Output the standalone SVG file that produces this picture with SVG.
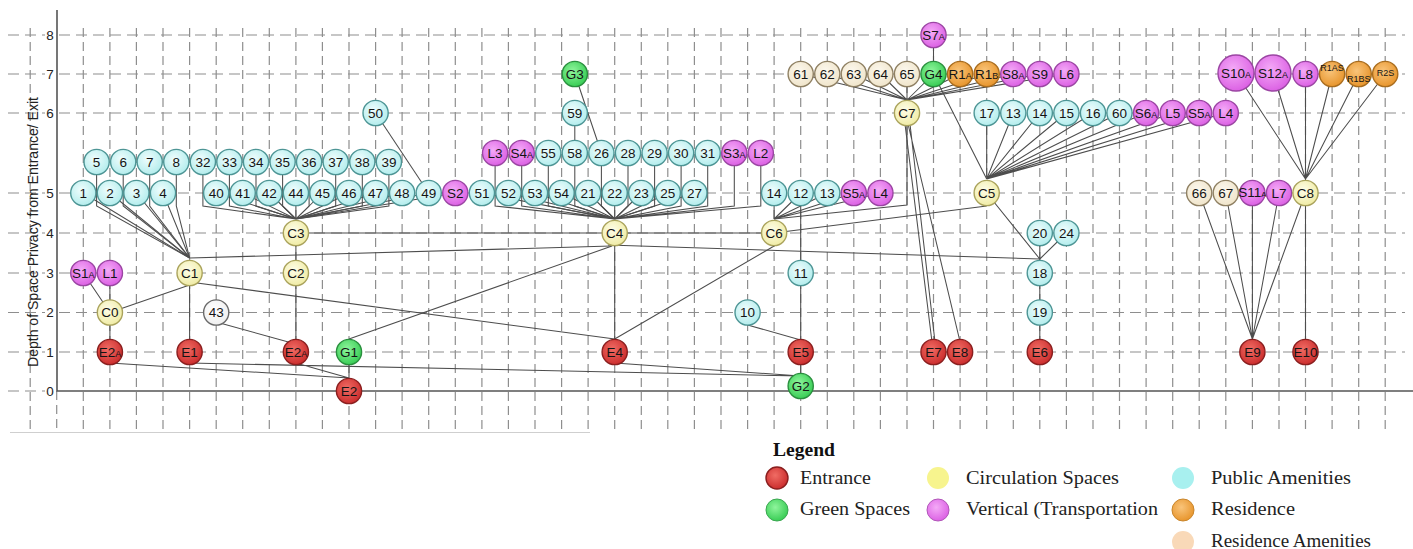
<svg xmlns="http://www.w3.org/2000/svg" width="1413" height="549" viewBox="0 0 1413 549">
<defs>
<radialGradient id="gPub" cx="0.42" cy="0.38" r="0.62"><stop offset="0" stop-color="#effdfd"/><stop offset="1" stop-color="#b4eded"/></radialGradient>
<radialGradient id="gCirc" cx="0.42" cy="0.38" r="0.62"><stop offset="0" stop-color="#fefde8"/><stop offset="1" stop-color="#f0eca6"/></radialGradient>
<radialGradient id="gEnt" cx="0.42" cy="0.38" r="0.62"><stop offset="0" stop-color="#f06c64"/><stop offset="1" stop-color="#cc2e2e"/></radialGradient>
<radialGradient id="gGrn" cx="0.42" cy="0.38" r="0.62"><stop offset="0" stop-color="#8ff59c"/><stop offset="1" stop-color="#3acd56"/></radialGradient>
<radialGradient id="gVt" cx="0.42" cy="0.38" r="0.62"><stop offset="0" stop-color="#f4aaf7"/><stop offset="1" stop-color="#dc62e4"/></radialGradient>
<radialGradient id="gRes" cx="0.42" cy="0.38" r="0.62"><stop offset="0" stop-color="#f9c47a"/><stop offset="1" stop-color="#e8962e"/></radialGradient>
<radialGradient id="gRam" cx="0.42" cy="0.38" r="0.62"><stop offset="0" stop-color="#fcf8ee"/><stop offset="1" stop-color="#f0e5cb"/></radialGradient>
<radialGradient id="gPln" cx="0.42" cy="0.38" r="0.62"><stop offset="0" stop-color="#ffffff"/><stop offset="1" stop-color="#efefef"/></radialGradient>
<style>
.gh{fill:none;stroke:#8e8e8e;stroke-width:1.2;stroke-dasharray:11 6}
.gv{fill:none;stroke:#8e8e8e;stroke-width:1.2;stroke-dasharray:9 5}
.axis{fill:none;stroke:#555;stroke-width:1.6}
.tick{font-family:"Liberation Sans",Arial,sans-serif;font-size:13.5px;fill:#222;text-anchor:middle}
.ytitle{font-family:"Liberation Sans",Arial,sans-serif;font-size:14px;fill:#222;text-anchor:middle}
#connectors path{fill:none;stroke:#4d4d4d;stroke-width:1.05}
.node circle{stroke-width:1.4}
.node text{font-family:"Liberation Sans",Arial,sans-serif;font-size:13.5px;fill:#141414;text-anchor:middle}
.node .s{font-size:9px}
.node .tiny{font-size:9px}
.pub circle{fill:url(#gPub);stroke:#4d9595}
.circ circle{fill:url(#gCirc);stroke:#aaa35c}
.ent circle{fill:url(#gEnt);stroke:#8a1f1f}
.grn circle{fill:url(#gGrn);stroke:#2a8f3e}
.vt circle{fill:url(#gVt);stroke:#9b46a3}
.res circle{fill:url(#gRes);stroke:#a96d1f}
.ram circle{fill:url(#gRam);stroke:#8f8063}
.pln circle{fill:url(#gPln);stroke:#6a6a6a}
.lg{font-family:"Liberation Serif","Times New Roman",serif;font-size:18px;fill:#222}
.lgh{font-family:"Liberation Serif","Times New Roman",serif;font-size:18px;font-weight:bold;fill:#111}
</style>
</defs>
<rect width="1413" height="549" fill="#fff"/>

<!-- grid -->
<g id="grid">
<path class="gh" d="M8 35H1405M8 74H1405M8 113H1405M8 193H1405M8 233H1405M8 273H1405M8 312.5H1405M8 352H1405M8 391H57"/>
<path class="gv" d="M30.2 28V432M56.7 391V432M83.3 28V432M109.9 28V432M136.4 28V432M163 28V432M189.6 28V432M216.2 28V432M242.7 28V432M269.3 28V432M295.9 28V432M322.4 28V432M349 28V432M375.6 28V432M402.1 28V432M428.7 28V432M455.3 28V432M481.9 28V432M508.4 28V432M535 28V432M561.6 28V432M588.1 28V432M614.7 28V432M641.3 28V432M667.8 28V432M694.4 28V432M721 28V432M747.6 28V432M774.1 28V432M800.7 28V432M827.3 28V432M853.8 28V432M880.4 28V432M907 28V432M933.5 28V432M960.1 28V432M986.7 28V432M1013.3 28V432M1039.8 28V432M1066.4 28V432M1093 28V432M1119.5 28V432M1146.1 28V432M1172.7 28V432M1199.2 28V432M1225.8 28V432M1252.4 28V432M1279 28V432M1305.5 28V432M1332.1 28V432M1358.7 28V432M1385.2 28V432"/>
<path d="M10 432.5H590" stroke="#cfcfcf" stroke-width="1.2" fill="none"/>
</g>

<!-- axes -->
<g id="axes">
<path class="axis" d="M57 10V391H1413"/>
<g fill="#fff"><rect x="45" y="28" width="10" height="14"/><rect x="45" y="67" width="10" height="14"/><rect x="45" y="106" width="10" height="14"/><rect x="45" y="186" width="10" height="14"/><rect x="45" y="226" width="10" height="14"/><rect x="45" y="266" width="10" height="14"/><rect x="45" y="305.5" width="10" height="14"/><rect x="45" y="345" width="10" height="14"/><rect x="45" y="384" width="10" height="14"/></g>
<text class="tick" x="50" y="39.8">8</text>
<text class="tick" x="50" y="78.8">7</text>
<text class="tick" x="50" y="117.8">6</text>
<text class="tick" x="50" y="197.8">5</text>
<text class="tick" x="50" y="237.8">4</text>
<text class="tick" x="50" y="277.8">3</text>
<text class="tick" x="50" y="317.3">2</text>
<text class="tick" x="50" y="356.8">1</text>
<text class="tick" x="50" y="395.8">0</text>
<text class="ytitle" transform="translate(38 232) rotate(-90)" textLength="270" lengthAdjust="spacingAndGlyphs">Depth of Space Privacy from Entrance/ Exit</text>
</g>

<!-- connectors -->
<g id="connectors">
<!-- C1 fan -->
<path d="M83.3 193L189.6 258M109.9 193L189.6 258M136.4 193L189.6 258M163 193L189.6 258"/>
<path d="M96.6 162V206L189.6 258M123.2 162V206L189.6 258M149.7 162V206L189.6 258M176.3 162V206L189.6 258"/>
<!-- C3 fan -->
<path d="M202.9 162V206L295.9 219M229.4 162V206L295.9 219M256 162V206L295.9 219M282.6 162V206L295.9 219M309.1 162V206L295.9 219M335.7 162V206L295.9 219M362.3 162V206L295.9 219M388.9 162V206L295.9 219"/>
<path d="M216.2 193L295.9 219M242.7 193L295.9 219M269.3 193L295.9 219M295.9 193V219M322.4 193L295.9 219M349 193L295.9 219M375.6 193L295.9 219M402.1 193L295.9 219M428.7 193L295.9 219M455.3 193L295.9 219"/>
<path d="M375.6 113L428.7 193"/>
<!-- C4 fan -->
<path d="M481.9 193L614.7 219M508.4 193L614.7 219M535 193L614.7 219M561.6 193L614.7 219M588.1 193L614.7 219M614.7 193V219M641.3 193L614.7 219M667.8 193L614.7 219M694.4 193L614.7 219"/>
<path d="M495.1 153V206L614.7 219M521.7 153V206L614.7 219M548.3 153V206L614.7 219M574.8 153V206L614.7 219M601.4 153V206L614.7 219M628 153V206L614.7 219M654.6 153V206L614.7 219M681.1 153V206L614.7 219M707.7 153V206L614.7 219M734.3 153V206L614.7 219M760.8 153V206L614.7 219"/>
<path d="M574.8 113V153M574.8 74L601.4 153"/>
<!-- C6 fan -->
<path d="M774.1 193V219M800.7 193L774.1 219M827.3 193L774.1 219M853.8 193L774.1 219M880.4 193L774.1 219"/>
<path d="M800.7 193V273"/>
<path d="M907 113V205L774.1 219"/>
<!-- C7 fan -->
<path d="M800.7 74L907 100M827.3 74L907 100M853.8 74L907 100M880.4 74L907 100M907 74V100M933.5 74L907 100M960.1 74L907 100M986.7 74L907 100M1013.3 74L907 100M1039.8 74L907 100M1066.4 74L907 100"/>
<path d="M933.5 35V74M933.5 74L986.7 179"/>
<path d="M905 124L932 342M910 124L935 342M908 124L960.1 342"/>
<!-- C5 fan -->
<path d="M986.7 113V179M1013.3 113L986.7 179M1039.8 113L986.7 179M1066.4 113L986.7 179M1093 113L986.7 179M1119.5 113L986.7 179M1146.1 113L986.7 179M1172.7 113L986.7 179M1199.2 113L986.7 179M1225.8 113L986.7 179"/>
<path d="M986.7 193L1039.8 259M774.1 233L986.7 206M608 245L1039.8 259M1039.8 233V352M1066.4 233L1039.8 259"/>
<!-- C8 and E9 fans -->
<path d="M1236 73L1305.5 179M1273 73L1305.5 179M1305.5 74V352M1332.1 74L1305.5 179M1358.7 74L1305.5 179M1385.2 74L1305.5 179"/>
<path d="M1199.2 193L1252.4 339M1225.8 193L1252.4 339M1252.4 193V339M1279 193L1252.4 339M1305.5 193L1252.4 339"/>
<!-- level 4 spine and lower links -->
<path d="M295.9 233H774.1M295.9 233V352"/>
<path d="M189.6 258L611 246M189.6 273V352M189.6 285L109.9 312.5M189.6 282L614.7 339"/>
<path d="M83.3 273L109.9 312.5M109.9 273V352"/>
<path d="M109.9 363L349 378M295.9 363L349 378M189.6 363L800.7 376M614.7 363L800.7 376"/>
<path d="M349 339V391M349 339L612 246M216.2 322L292 343"/>
<path d="M614.7 233V352M614.7 339L774.1 246M747.6 325L800.7 340M800.7 273V386"/>
</g>

<!-- nodes -->
<g id="n-S7A" class="node vt"><circle cx="933.5" cy="35" r="12.6"/><text x="933.5" y="39.7">S7<tspan class="s">A</tspan></text></g>

<g id="n-G3" class="node grn"><circle cx="574.8" cy="74" r="12.6"/><text x="574.8" y="78.7">G3</text></g>
<g id="n-61" class="node ram"><circle cx="800.7" cy="74" r="12.6"/><text x="800.7" y="78.7">61</text></g>
<g id="n-62" class="node ram"><circle cx="827.3" cy="74" r="12.6"/><text x="827.3" y="78.7">62</text></g>
<g id="n-63" class="node ram"><circle cx="853.8" cy="74" r="12.6"/><text x="853.8" y="78.7">63</text></g>
<g id="n-64" class="node ram"><circle cx="880.4" cy="74" r="12.6"/><text x="880.4" y="78.7">64</text></g>
<g id="n-65" class="node ram"><circle cx="907" cy="74" r="12.6"/><text x="907" y="78.7">65</text></g>
<g id="n-G4" class="node grn"><circle cx="933.5" cy="74" r="12.6"/><text x="933.5" y="78.7">G4</text></g>
<g id="n-R1A" class="node res"><circle cx="960.1" cy="74" r="12.6"/><text x="960.1" y="78.7">R1<tspan class="s">A</tspan></text></g>
<g id="n-R1B" class="node res"><circle cx="986.7" cy="74" r="12.6"/><text x="986.7" y="78.7">R1<tspan class="s">B</tspan></text></g>
<g id="n-S8A" class="node vt"><circle cx="1013.3" cy="74" r="12.6"/><text x="1013.3" y="78.7">S8<tspan class="s">A</tspan></text></g>
<g id="n-S9" class="node vt"><circle cx="1039.8" cy="74" r="12.6"/><text x="1039.8" y="78.7">S9</text></g>
<g id="n-L6" class="node vt"><circle cx="1066.4" cy="74" r="12.6"/><text x="1066.4" y="78.7">L6</text></g>
<g id="n-S10A" class="node vt"><circle cx="1236" cy="73" r="18"/><text x="1236" y="77.7">S10<tspan class="s">A</tspan></text></g>
<g id="n-S12A" class="node vt"><circle cx="1273" cy="73" r="18"/><text x="1273" y="77.7">S12<tspan class="s">A</tspan></text></g>
<g id="n-L8" class="node vt"><circle cx="1305.5" cy="74" r="12.6"/><text x="1305.5" y="78.7">L8</text></g>
<g id="n-R1AS" class="node res"><circle cx="1332.1" cy="74" r="12.6"/><text class="tiny" x="1332.1" y="71">R1AS</text></g>
<g id="n-R1BS" class="node res"><circle cx="1358.7" cy="74" r="12.6"/><text class="tiny" x="1358.7" y="81.5">R1BS</text></g>
<g id="n-R2S" class="node res"><circle cx="1385.2" cy="74" r="12.6"/><text class="tiny" x="1385.5" y="76">R2S</text></g>

<g id="n-50" class="node pub"><circle cx="375.6" cy="113" r="12.6"/><text x="375.6" y="117.7">50</text></g>
<g id="n-59" class="node pub"><circle cx="574.8" cy="113" r="12.6"/><text x="574.8" y="117.7">59</text></g>
<g id="n-C7" class="node circ"><circle cx="907" cy="113" r="12.6"/><text x="907" y="117.7">C7</text></g>
<g id="n-17" class="node pub"><circle cx="986.7" cy="113" r="12.6"/><text x="986.7" y="117.7">17</text></g>
<g id="n-13b" class="node pub"><circle cx="1013.3" cy="113" r="12.6"/><text x="1013.3" y="117.7">13</text></g>
<g id="n-14b" class="node pub"><circle cx="1039.8" cy="113" r="12.6"/><text x="1039.8" y="117.7">14</text></g>
<g id="n-15" class="node pub"><circle cx="1066.4" cy="113" r="12.6"/><text x="1066.4" y="117.7">15</text></g>
<g id="n-16" class="node pub"><circle cx="1093" cy="113" r="12.6"/><text x="1093" y="117.7">16</text></g>
<g id="n-60" class="node pub"><circle cx="1119.5" cy="113" r="12.6"/><text x="1119.5" y="117.7">60</text></g>
<g id="n-S6A" class="node vt"><circle cx="1146.1" cy="113" r="12.6"/><text x="1146.1" y="117.7">S6<tspan class="s">A</tspan></text></g>
<g id="n-L5" class="node vt"><circle cx="1172.7" cy="113" r="12.6"/><text x="1172.7" y="117.7">L5</text></g>
<g id="n-S5Ab" class="node vt"><circle cx="1199.2" cy="113" r="12.6"/><text x="1199.2" y="117.7">S5<tspan class="s">A</tspan></text></g>
<g id="n-L4b" class="node vt"><circle cx="1225.8" cy="113" r="12.6"/><text x="1225.8" y="117.7">L4</text></g>

<g id="n-5" class="node pub"><circle cx="96.6" cy="162" r="12.6"/><text x="96.6" y="166.7">5</text></g>
<g id="n-6" class="node pub"><circle cx="123.2" cy="162" r="12.6"/><text x="123.2" y="166.7">6</text></g>
<g id="n-7" class="node pub"><circle cx="149.7" cy="162" r="12.6"/><text x="149.7" y="166.7">7</text></g>
<g id="n-8" class="node pub"><circle cx="176.3" cy="162" r="12.6"/><text x="176.3" y="166.7">8</text></g>
<g id="n-32" class="node pub"><circle cx="202.9" cy="162" r="12.6"/><text x="202.9" y="166.7">32</text></g>
<g id="n-33" class="node pub"><circle cx="229.4" cy="162" r="12.6"/><text x="229.4" y="166.7">33</text></g>
<g id="n-34" class="node pub"><circle cx="256" cy="162" r="12.6"/><text x="256" y="166.7">34</text></g>
<g id="n-35" class="node pub"><circle cx="282.6" cy="162" r="12.6"/><text x="282.6" y="166.7">35</text></g>
<g id="n-36" class="node pub"><circle cx="309.1" cy="162" r="12.6"/><text x="309.1" y="166.7">36</text></g>
<g id="n-37" class="node pub"><circle cx="335.7" cy="162" r="12.6"/><text x="335.7" y="166.7">37</text></g>
<g id="n-38" class="node pub"><circle cx="362.3" cy="162" r="12.6"/><text x="362.3" y="166.7">38</text></g>
<g id="n-39" class="node pub"><circle cx="388.9" cy="162" r="12.6"/><text x="388.9" y="166.7">39</text></g>

<g id="n-L3" class="node vt"><circle cx="495.1" cy="153" r="12.6"/><text x="495.1" y="157.7">L3</text></g>
<g id="n-S4A" class="node vt"><circle cx="521.7" cy="153" r="12.6"/><text x="521.7" y="157.7">S4<tspan class="s">A</tspan></text></g>
<g id="n-55" class="node pub"><circle cx="548.3" cy="153" r="12.6"/><text x="548.3" y="157.7">55</text></g>
<g id="n-58" class="node pub"><circle cx="574.8" cy="153" r="12.6"/><text x="574.8" y="157.7">58</text></g>
<g id="n-26" class="node pub"><circle cx="601.4" cy="153" r="12.6"/><text x="601.4" y="157.7">26</text></g>
<g id="n-28" class="node pub"><circle cx="628" cy="153" r="12.6"/><text x="628" y="157.7">28</text></g>
<g id="n-29" class="node pub"><circle cx="654.6" cy="153" r="12.6"/><text x="654.6" y="157.7">29</text></g>
<g id="n-30" class="node pub"><circle cx="681.1" cy="153" r="12.6"/><text x="681.1" y="157.7">30</text></g>
<g id="n-31" class="node pub"><circle cx="707.7" cy="153" r="12.6"/><text x="707.7" y="157.7">31</text></g>
<g id="n-S3A" class="node vt"><circle cx="734.3" cy="153" r="12.6"/><text x="734.3" y="157.7">S3<tspan class="s">A</tspan></text></g>
<g id="n-L2" class="node vt"><circle cx="760.8" cy="153" r="12.6"/><text x="760.8" y="157.7">L2</text></g>

<g id="n-1" class="node pub"><circle cx="83.3" cy="193" r="12.6"/><text x="83.3" y="197.7">1</text></g>
<g id="n-2" class="node pub"><circle cx="109.9" cy="193" r="12.6"/><text x="109.9" y="197.7">2</text></g>
<g id="n-3" class="node pub"><circle cx="136.4" cy="193" r="12.6"/><text x="136.4" y="197.7">3</text></g>
<g id="n-4" class="node pub"><circle cx="163" cy="193" r="12.6"/><text x="163" y="197.7">4</text></g>
<g id="n-40" class="node pub"><circle cx="216.2" cy="193" r="12.6"/><text x="216.2" y="197.7">40</text></g>
<g id="n-41" class="node pub"><circle cx="242.7" cy="193" r="12.6"/><text x="242.7" y="197.7">41</text></g>
<g id="n-42" class="node pub"><circle cx="269.3" cy="193" r="12.6"/><text x="269.3" y="197.7">42</text></g>
<g id="n-44" class="node pub"><circle cx="295.9" cy="193" r="12.6"/><text x="295.9" y="197.7">44</text></g>
<g id="n-45" class="node pub"><circle cx="322.4" cy="193" r="12.6"/><text x="322.4" y="197.7">45</text></g>
<g id="n-46" class="node pub"><circle cx="349" cy="193" r="12.6"/><text x="349" y="197.7">46</text></g>
<g id="n-47" class="node pub"><circle cx="375.6" cy="193" r="12.6"/><text x="375.6" y="197.7">47</text></g>
<g id="n-48" class="node pub"><circle cx="402.1" cy="193" r="12.6"/><text x="402.1" y="197.7">48</text></g>
<g id="n-49" class="node pub"><circle cx="428.7" cy="193" r="12.6"/><text x="428.7" y="197.7">49</text></g>
<g id="n-S2" class="node vt"><circle cx="455.3" cy="193" r="12.6"/><text x="455.3" y="197.7">S2</text></g>
<g id="n-51" class="node pub"><circle cx="481.9" cy="193" r="12.6"/><text x="481.9" y="197.7">51</text></g>
<g id="n-52" class="node pub"><circle cx="508.4" cy="193" r="12.6"/><text x="508.4" y="197.7">52</text></g>
<g id="n-53" class="node pub"><circle cx="535" cy="193" r="12.6"/><text x="535" y="197.7">53</text></g>
<g id="n-54" class="node pub"><circle cx="561.6" cy="193" r="12.6"/><text x="561.6" y="197.7">54</text></g>
<g id="n-21" class="node pub"><circle cx="588.1" cy="193" r="12.6"/><text x="588.1" y="197.7">21</text></g>
<g id="n-22" class="node pub"><circle cx="614.7" cy="193" r="12.6"/><text x="614.7" y="197.7">22</text></g>
<g id="n-23" class="node pub"><circle cx="641.3" cy="193" r="12.6"/><text x="641.3" y="197.7">23</text></g>
<g id="n-25" class="node pub"><circle cx="667.8" cy="193" r="12.6"/><text x="667.8" y="197.7">25</text></g>
<g id="n-27" class="node pub"><circle cx="694.4" cy="193" r="12.6"/><text x="694.4" y="197.7">27</text></g>
<g id="n-14a" class="node pub"><circle cx="774.1" cy="193" r="12.6"/><text x="774.1" y="197.7">14</text></g>
<g id="n-12" class="node pub"><circle cx="800.7" cy="193" r="12.6"/><text x="800.7" y="197.7">12</text></g>
<g id="n-13a" class="node pub"><circle cx="827.3" cy="193" r="12.6"/><text x="827.3" y="197.7">13</text></g>
<g id="n-S5Aa" class="node vt"><circle cx="853.8" cy="193" r="12.6"/><text x="853.8" y="197.7">S5<tspan class="s">A</tspan></text></g>
<g id="n-L4a" class="node vt"><circle cx="880.4" cy="193" r="12.6"/><text x="880.4" y="197.7">L4</text></g>
<g id="n-C5" class="node circ"><circle cx="986.7" cy="193" r="12.6"/><text x="986.7" y="197.7">C5</text></g>
<g id="n-66" class="node ram"><circle cx="1199.2" cy="193" r="12.6"/><text x="1199.2" y="197.7">66</text></g>
<g id="n-67" class="node ram"><circle cx="1225.8" cy="193" r="12.6"/><text x="1225.8" y="197.7">67</text></g>
<g id="n-S11A" class="node vt"><circle cx="1252.4" cy="193" r="12.6"/><text x="1252.4" y="196.8" font-size="10">S11<tspan font-size="8">A</tspan></text></g>
<g id="n-L7" class="node vt"><circle cx="1279" cy="193" r="12.6"/><text x="1279" y="197.7">L7</text></g>
<g id="n-C8" class="node circ"><circle cx="1305.5" cy="193" r="12.6"/><text x="1305.5" y="197.7">C8</text></g>

<g id="n-C3" class="node circ"><circle cx="295.9" cy="233" r="12.6"/><text x="295.9" y="237.7">C3</text></g>
<g id="n-C4" class="node circ"><circle cx="614.7" cy="233" r="12.6"/><text x="614.7" y="237.7">C4</text></g>
<g id="n-C6" class="node circ"><circle cx="774.1" cy="233" r="12.6"/><text x="774.1" y="237.7">C6</text></g>
<g id="n-20" class="node pub"><circle cx="1039.8" cy="233" r="12.6"/><text x="1039.8" y="237.7">20</text></g>
<g id="n-24" class="node pub"><circle cx="1066.4" cy="233" r="12.6"/><text x="1066.4" y="237.7">24</text></g>

<g id="n-S1A" class="node vt"><circle cx="83.3" cy="273" r="12.6"/><text x="83.3" y="277.7">S1<tspan class="s">A</tspan></text></g>
<g id="n-L1" class="node vt"><circle cx="109.9" cy="273" r="12.6"/><text x="109.9" y="277.7">L1</text></g>
<g id="n-C1" class="node circ"><circle cx="189.6" cy="273" r="12.6"/><text x="189.6" y="277.7">C1</text></g>
<g id="n-C2" class="node circ"><circle cx="295.9" cy="273" r="12.6"/><text x="295.9" y="277.7">C2</text></g>
<g id="n-11" class="node pub"><circle cx="800.7" cy="273" r="12.6"/><text x="800.7" y="277.7">11</text></g>
<g id="n-18" class="node pub"><circle cx="1039.8" cy="273" r="12.6"/><text x="1039.8" y="277.7">18</text></g>

<g id="n-C0" class="node circ"><circle cx="109.9" cy="312.5" r="12.6"/><text x="109.9" y="317.2">C0</text></g>
<g id="n-43" class="node pln"><circle cx="216.2" cy="312.5" r="12.6"/><text x="216.2" y="317.2">43</text></g>
<g id="n-10" class="node pub"><circle cx="747.6" cy="312.5" r="12.6"/><text x="747.6" y="317.2">10</text></g>
<g id="n-19" class="node pub"><circle cx="1039.8" cy="312.5" r="12.6"/><text x="1039.8" y="317.2">19</text></g>

<g id="n-E2Aa" class="node ent"><circle cx="109.9" cy="352" r="12.6"/><text x="109.9" y="356.7">E2<tspan class="s">A</tspan></text></g>
<g id="n-E1" class="node ent"><circle cx="189.6" cy="352" r="12.6"/><text x="189.6" y="356.7">E1</text></g>
<g id="n-E2Ab" class="node ent"><circle cx="295.9" cy="352" r="12.6"/><text x="295.9" y="356.7">E2<tspan class="s">A</tspan></text></g>
<g id="n-G1" class="node grn"><circle cx="349" cy="352" r="12.6"/><text x="349" y="356.7">G1</text></g>
<g id="n-E4" class="node ent"><circle cx="614.7" cy="352" r="12.6"/><text x="614.7" y="356.7">E4</text></g>
<g id="n-E5" class="node ent"><circle cx="800.7" cy="352" r="12.6"/><text x="800.7" y="356.7">E5</text></g>
<g id="n-E7" class="node ent"><circle cx="933.5" cy="352" r="12.6"/><text x="933.5" y="356.7">E7</text></g>
<g id="n-E8" class="node ent"><circle cx="960.1" cy="352" r="12.6"/><text x="960.1" y="356.7">E8</text></g>
<g id="n-E6" class="node ent"><circle cx="1039.8" cy="352" r="12.6"/><text x="1039.8" y="356.7">E6</text></g>
<g id="n-E9" class="node ent"><circle cx="1252.4" cy="352" r="12.6"/><text x="1252.4" y="356.7">E9</text></g>
<g id="n-E10" class="node ent"><circle cx="1305.5" cy="352" r="12.6"/><text x="1305.5" y="356.7">E10</text></g>

<g id="n-E2" class="node ent"><circle cx="349" cy="391" r="12.6"/><text x="349" y="395.7">E2</text></g>
<g id="n-G2" class="node grn"><circle cx="800.7" cy="386" r="12.6"/><text x="800.7" y="390.7">G2</text></g>

<!-- legend -->
<g id="legend">
<text class="lgh" x="773" y="456" textLength="62" lengthAdjust="spacingAndGlyphs">Legend</text>
<circle cx="777" cy="478" r="11" fill="url(#gEnt)" stroke="#8a1f1f" stroke-width="1.4"/>
<text class="lg" x="800" y="483.5" textLength="71" lengthAdjust="spacingAndGlyphs">Entrance</text>
<circle cx="777" cy="510" r="11" fill="url(#gGrn)" stroke="#3aa650" stroke-width="1"/>
<text class="lg" x="800" y="515" textLength="110" lengthAdjust="spacingAndGlyphs">Green Spaces</text>
<circle cx="938" cy="478" r="11" fill="#f7f48e"/>
<text class="lg" x="966" y="483.5" textLength="153" lengthAdjust="spacingAndGlyphs">Circulation Spaces</text>
<circle cx="938" cy="510" r="11" fill="url(#gVt)" stroke="#b056b8" stroke-width="1"/>
<text class="lg" x="966" y="515" textLength="192" lengthAdjust="spacingAndGlyphs">Vertical (Transportation</text>
<circle cx="1183" cy="478" r="11" fill="#a8f0ef"/>
<text class="lg" x="1211" y="483.5" textLength="140" lengthAdjust="spacingAndGlyphs">Public Amenities</text>
<circle cx="1183" cy="510" r="11" fill="url(#gRes)" stroke="#c9862c" stroke-width="1"/>
<text class="lg" x="1211" y="515" textLength="84" lengthAdjust="spacingAndGlyphs">Residence</text>
<circle cx="1183" cy="542" r="11" fill="#f9d9b8"/>
<text class="lg" x="1211" y="547" textLength="160" lengthAdjust="spacingAndGlyphs">Residence Amenities</text>
</g>
</svg>
